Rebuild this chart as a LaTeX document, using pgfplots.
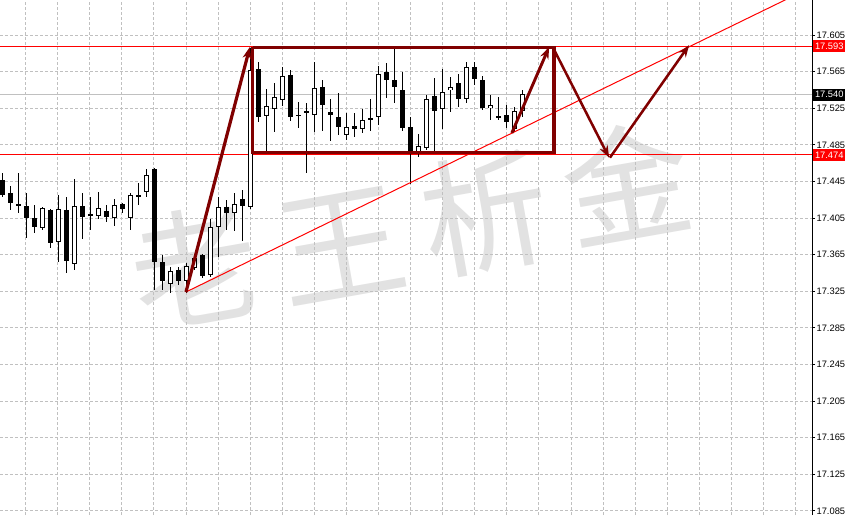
\documentclass[border=0pt]{standalone}
\usepackage{fontspec}
\setmainfont{Liberation Sans}
\newfontfamily\cjk{Noto Sans CJK SC}
\usepackage{pgfplots}
\usepackage{pgfplotstable}
\pgfplotsset{compat=1.18}
\usetikzlibrary{arrows.meta}

\definecolor{maroon}{RGB}{128,0,0}
\definecolor{gridgray}{RGB}{192,192,192}
\definecolor{wmgray}{RGB}{226,226,226}

% candle index, open, high, low, close
\pgfplotstableread{
i O H L C
0 17.447 17.454 17.428 17.430
1 17.432 17.440 17.414 17.421
2 17.421 17.454 17.411 17.418
3 17.418 17.432 17.383 17.405
4 17.405 17.419 17.389 17.395
5 17.394 17.417 17.392 17.416
6 17.414 17.415 17.372 17.378
7 17.379 17.430 17.357 17.415
8 17.414 17.428 17.345 17.358
9 17.355 17.448 17.348 17.418
10 17.418 17.432 17.382 17.406
11 17.407 17.428 17.392 17.409
12 17.407 17.434 17.404 17.416
13 17.413 17.419 17.401 17.406
14 17.405 17.426 17.396 17.419
15 17.421 17.422 17.411 17.415
16 17.405 17.432 17.392 17.430
17 17.430 17.443 17.419 17.428
18 17.434 17.459 17.428 17.452
19 17.459 17.460 17.326 17.357
20 17.357 17.365 17.326 17.336
21 17.333 17.352 17.323 17.347
22 17.348 17.352 17.332 17.336
23 17.336 17.356 17.323 17.353
24 17.350 17.362 17.348 17.361
25 17.365 17.366 17.340 17.342
26 17.343 17.404 17.341 17.395
27 17.395 17.428 17.362 17.417
28 17.417 17.425 17.392 17.411
29 17.411 17.432 17.391 17.420
30 17.426 17.436 17.380 17.418
31 17.417 17.591 17.415 17.567
32 17.568 17.576 17.510 17.515
33 17.517 17.546 17.477 17.528
34 17.524 17.553 17.499 17.537
35 17.534 17.570 17.528 17.560
36 17.561 17.567 17.511 17.515
37 17.518 17.532 17.503 17.517
38 17.522 17.531 17.454 17.521
39 17.518 17.576 17.499 17.547
40 17.548 17.556 17.500 17.529
41 17.521 17.535 17.489 17.518
42 17.515 17.542 17.496 17.505
43 17.496 17.520 17.490 17.505
44 17.506 17.520 17.494 17.502
45 17.502 17.524 17.498 17.512
46 17.514 17.535 17.500 17.513
47 17.515 17.571 17.507 17.562
48 17.565 17.574 17.536 17.556
49 17.556 17.590 17.531 17.548
50 17.545 17.565 17.500 17.503
51 17.505 17.515 17.442 17.477
52 17.477 17.497 17.472 17.484
53 17.482 17.540 17.479 17.535
54 17.538 17.558 17.477 17.522
55 17.524 17.568 17.502 17.543
56 17.545 17.559 17.521 17.548
57 17.553 17.562 17.526 17.535
58 17.535 17.576 17.531 17.570
59 17.570 17.576 17.550 17.557
60 17.556 17.560 17.523 17.525
61 17.525 17.540 17.512 17.529
62 17.517 17.537 17.512 17.514
63 17.518 17.529 17.503 17.510
64 17.502 17.526 17.499 17.522
65 17.522 17.545 17.515 17.541
}\candles

\begin{document}
\begin{tikzpicture}
% watermark behind everything, one glyph per node
\begin{scope}[every node/.style={rotate=10, text=wmgray, inner sep=0pt,
    font=\cjk\fontsize{96}{96}\selectfont}]
\node at (146pt,186pt) {老};
\node at (256pt,202pt) {王};
\node at (364pt,226pt) {析};
\node at (470pt,250pt) {金};
\end{scope}

\begin{axis}[
    at={(0,0)}, anchor=south west,
    scale only axis, width=609pt, height=386.25pt,
    xmin=-0.3375, xmax=101.16,
    ymin=17.0805, ymax=17.6433,
    axis line style={draw=none},
    xtick={2.87,6.88,...,100}, xticklabels={}, xtick style={draw=none},
    ytick={17.085,17.125,17.165,17.205,17.245,17.285,17.325,17.365,17.405,17.445,17.485,17.525,17.565,17.605},
    ytick pos=right, yticklabel pos=right,
    tick align=outside, major tick length=2.25pt,
    ytick style={black, line width=0.75pt},
    grid=major,
    major grid style={gridgray, dash pattern=on 2.25pt off 1.5pt, line width=0.75pt},
    /pgf/number format/fixed, /pgf/number format/fixed zerofill,
    /pgf/number format/precision=3,
    /pgf/number format/assume math mode=true,
    yticklabel style={font=\fontsize{7}{8}\selectfont, inner xsep=1pt},
]
% bid line and support / resistance levels
\addplot[gridgray, line width=0.75pt, forget plot] coordinates {(-1,17.540) (102,17.540)};
\addplot[red, line width=0.75pt, forget plot] coordinates {(-1,17.593) (102,17.593)};
\addplot[red, line width=0.75pt, forget plot] coordinates {(-1,17.474) (102,17.474)};

% wicks
\addplot[draw=none, mark=none, forget plot,
  error bars/.cd, y dir=both, y explicit, error mark=none,
  error bar style={draw=black, solid, line width=0.75pt}]
  table[x=i, y expr={(\thisrow{H}+\thisrow{L})/2},
        y error expr={(\thisrow{H}-\thisrow{L})/2}] {\candles};
% bodies (black outline / bearish fill)
\addplot[draw=none, mark=none, forget plot,
  error bars/.cd, y dir=both, y explicit, error mark=none,
  error bar style={draw=black, solid, line width=3.75pt}]
  table[x=i, y expr={(\thisrow{O}+\thisrow{C})/2},
        y error expr={max(abs(\thisrow{C}-\thisrow{O})/2,0.00055)}] {\candles};
% bullish bodies: white inside
\addplot[draw=none, mark=none, forget plot,
  error bars/.cd, y dir=both, y explicit, error mark=none,
  error bar style={draw=white, solid, line width=2.25pt}]
  table[x=i, y expr={(\thisrow{O}+\thisrow{C})/2},
        y error expr={(\thisrow{C}>\thisrow{O})*max(abs(\thisrow{C}-\thisrow{O})/2-0.0011,0)}] {\candles};

% trend line
\addplot[red, line width=0.75pt, forget plot] coordinates {(22.91,17.3242) (100,17.6527)};
% range box
\addplot[maroon, line width=2.6pt, forget plot] coordinates
  {(31.23,17.5916) (68.89,17.5916) (68.89,17.4764) (31.23,17.4764) (31.23,17.5916)};
% arrows
\addplot[maroon, line width=2.4pt, -{Stealth[length=9pt,width=6.5pt]}, forget plot]
  coordinates {(22.91,17.3242) (30.9,17.592)};
\addplot[maroon, line width=2.2pt, -{Stealth[length=9pt,width=6.5pt]}, forget plot]
  coordinates {(63.64,17.498) (68.3,17.592)};
\addplot[maroon, line width=1.9pt, -{Stealth[length=9pt,width=6.5pt]}, forget plot]
  coordinates {(68.8,17.591) (75.8,17.471)};
\addplot[maroon, line width=1.9pt, -{Stealth[length=9pt,width=6.5pt]}, forget plot]
  coordinates {(75.9,17.471) (85.8,17.594)};

\coordinate (rb) at (rel axis cs:1,0);
\coordinate (rt) at (rel axis cs:1,1);
\coordinate (l593) at (axis cs:101.16,17.593);
\coordinate (l540) at (axis cs:101.16,17.540);
\coordinate (l474) at (axis cs:101.16,17.474);
\end{axis}

\draw[black, line width=0.75pt] (rb) -- (rt);
\begin{scope}[every node/.style={anchor=west, inner sep=0pt, xshift=0.75pt,
    minimum width=24pt, minimum height=9pt, text=white,
    font=\fontsize{7}{8}\selectfont}]
\node[fill=red] at (l593) {17.593};
\node[fill=black] at (l540) {17.540};
\node[fill=red] at (l474) {17.474};
\end{scope}

\pgfresetboundingbox
\path[use as bounding box] (0,0) rectangle (633.75pt,386.25pt);
\end{tikzpicture}
\end{document}
